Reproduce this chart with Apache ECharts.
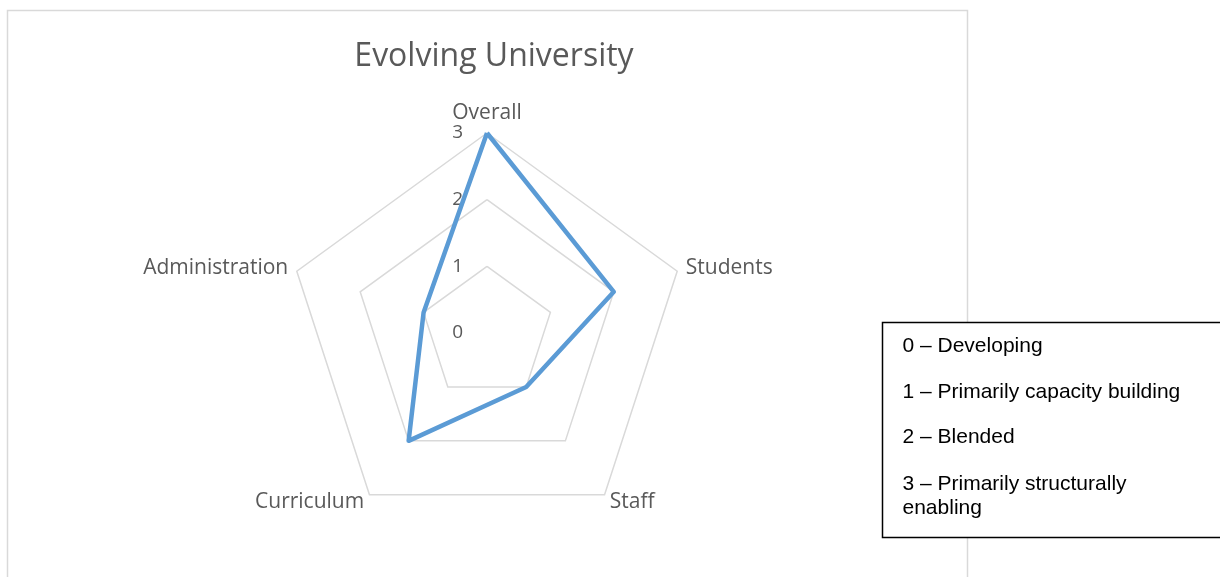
<!DOCTYPE html>
<html>
<head>
<meta charset="utf-8">
<script src="https://cdn.jsdelivr.net/npm/echarts@6/dist/echarts.min.js"></script>
<style>
html,body{margin:0;padding:0;background:#fff;}
#chart{width:1220px;height:577px;}
</style>
</head>
<body>
<div id="chart"></div>
<script>
const titleText = "Evolving University";
// listed counter-clockwise from the top (ECharts radar order), which gives the clockwise reading
// Overall -> Students -> Staff -> Curriculum -> Administration
const indicators = ["Overall", "Administration", "Curriculum", "Staff", "Students"];
const values = [3, 1, 2, 1, 2];
const scaleMin = 0;
const scaleMax = 3;
const legendItems = [
  "0 \u2013 Developing",
  "1 \u2013 Primarily capacity building",
  "2 \u2013 Blended",
  "3 \u2013 Primarily structurally\nenabling"
];

const chart = echarts.init(document.getElementById('chart'), null, {renderer: 'canvas'});
const labelFont = '"Open Sans", sans-serif';

const legendChildren = [{
  type: 'rect',
  shape: {x: 0, y: 0, width: 345, height: 215},
  style: {fill: '#fff', stroke: '#000', lineWidth: 1.5}
}];
const legendY = [24, 70, 115, 174];
legendItems.forEach((t, i) => {
  legendChildren.push({
    type: 'text',
    x: 20, y: legendY[i],
    style: {text: t, font: '21px "Liberation Sans", Arial, sans-serif', fill: '#000', verticalAlign: 'middle', lineHeight: 24}
  });
});

chart.setOption({
  animation: false,
  title: {
    text: titleText,
    left: 489, top: 36,
    textAlign: 'center',
    textStyle: {fontFamily: labelFont, fontSize: 32, fontWeight: 'normal', color: '#595959'}
  },
  graphic: [
    {
      type: 'rect', z: -10,
      shape: {x: 7.5, y: 10.5, width: 960, height: 600},
      style: {fill: 'none', stroke: '#d9d9d9', lineWidth: 1.5}
    },
    {
      type: 'group', x: 882.5, y: 322.5,
      children: legendChildren
    }
  ],
  radar: {
    center: [487, 333],
    radius: 200,
    startAngle: 90,
    shape: 'polygon',
    splitNumber: 3,
    nameGap: 9,
    indicator: indicators.map((n, i) => ({
      name: n, min: scaleMin, max: scaleMax,
      axisLabel: i === 0 ? {show: true} : undefined
    })),
    axisName: {color: '#595959', fontFamily: labelFont, fontSize: 21},
    axisLine: {show: false},
    axisTick: {show: false},
    axisLabel: {show: false, color: '#595959', fontFamily: labelFont, fontSize: 19, margin: 24},
    splitLine: {lineStyle: {color: '#d9d9d9', width: 1.5}},
    splitArea: {show: false}
  },
  series: [{
    type: 'radar',
    symbol: 'none',
    lineStyle: {color: '#5b9bd5', width: 4.5},
    itemStyle: {color: '#5b9bd5'},
    data: [{value: values, name: titleText}]
  }]
});
</script>
</body>
</html>
